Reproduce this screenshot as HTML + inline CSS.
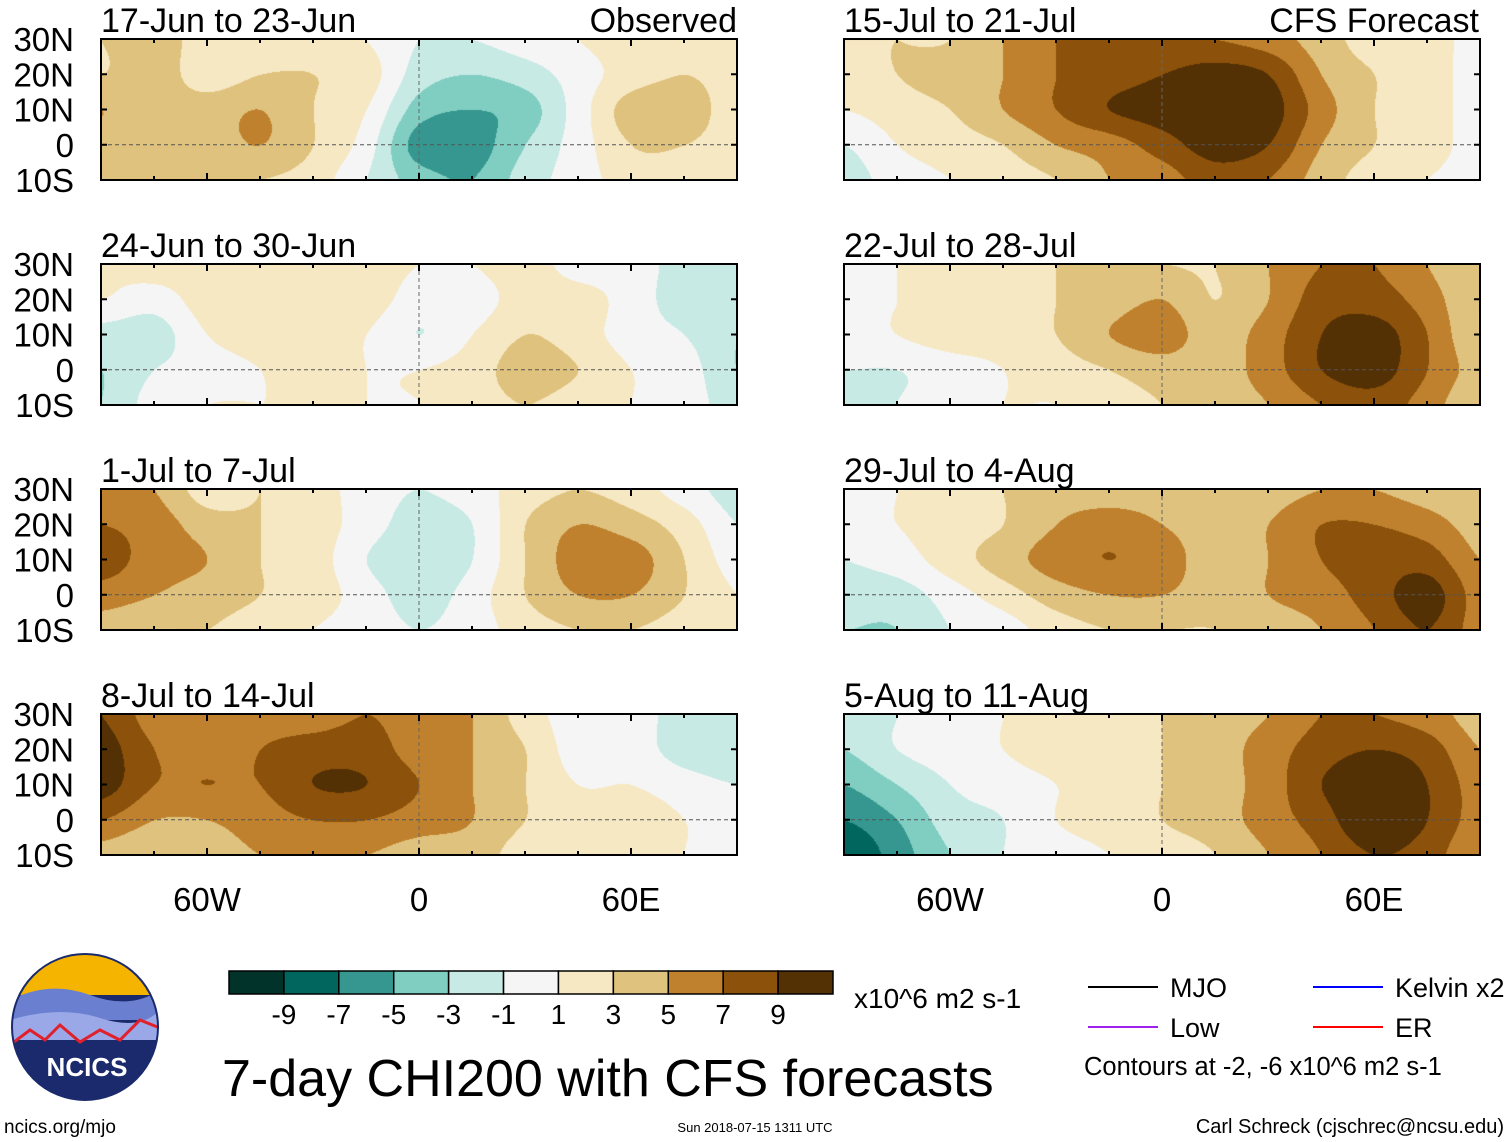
<!DOCTYPE html>
<html><head><meta charset="utf-8"><style>
body{margin:0;background:#fff;width:1510px;height:1142px;overflow:hidden;font-family:"Liberation Sans",sans-serif}
#root{position:relative;width:1510px;height:1142px}
canvas{position:absolute}
svg{position:absolute;left:0;top:0}
</style></head><body><div id="root">
<svg id="ov" width="1510" height="1142"></svg>
</div>
<script>
const lons=[-90,-75,-60,-45,-30,-15,0,15,30,45,60,75,90];
const lats=[30,20,10,0,-10];
const levels=[-9,-7,-5,-3,-1,1,3,5,7,9];
const levelColors=["#01332b","#01665e","#35978f","#80cdc1","#c7eae5","#f5f5f5","#f6e8c3","#dfc27d","#bf812d","#8c510a","#543005"];
const cbLabels=["-9","-7","-5","-3","-1","1","3","5","7","9"];
const titles=["17-Jun to 23-Jun","24-Jun to 30-Jun","1-Jul to 7-Jul","8-Jul to 14-Jul","15-Jul to 21-Jul","22-Jul to 28-Jul","29-Jul to 4-Aug","5-Aug to 11-Aug"];
const latLabels=["30N","20N","10N","0","10S"];
const lonLabels=["60W","0","60E"];
const lonLabelVals=[-60,0,60];
const f1=[[3,4,2,2,2,1,-1,-1,0,1,2,2,1],[3,4,2,3,3,2,-2,-3,-2,0,2,3,2],[5,4,4,5,3,1,-4,-5,-4,0,4,4,2],[4,4,4,5,3,0,-6,-6,-3,0,3,3,2],[3,3,3,3,2,-1,-4,-5,-2,0,2,2,1]];
const f2=[[1,2,2,2,2,2,1,1,2,0,0,-2,-3],[1,0,2,2,2,2,0,0,2,2,0,-2,-3],[-2,-2,1,2,2,1,-1,1,3,2,0,-1,-3],[-3,-1,0,1,2,1,1,2,4,3,1,0,-3],[-3,0,1,1,1,1,1,2,3,2,1,0,-2]];
const f3=[[5,5,2,3,2,0,-1,0,2,3,2,0,-2],[7,6,4,3,2,0,-2,-1,3,5,4,2,-1],[8,6,5,3,2,-1,-3,-1,3,6,6,3,0],[6,5,4,3,2,0,-2,0,3,5,5,3,1],[4,3,3,2,1,0,-1,0,2,3,3,2,1]];
const f4=[[9,6,6,6,6,7,6,5,2,0,0,-2,-2],[10,7,6,7,8,8,6,5,3,0,0,-2,-3],[10,7,7,7,9,9,7,5,3,1,1,0,-1],[7,5,5,6,7,7,6,5,3,2,2,1,0],[4,3,4,5,5,5,4,4,2,2,2,1,0]];
const f5=[[3,3,3,5,7,7,7,7,6,4,2,2,0],[2,3,4,5,7,8,9,10,9,5,3,2,0],[1,2,3,5,7,9,10,11,10,6,3,2,0],[-1,1,2,3,5,6,8,10,9,5,3,2,0],[-2,0,1,2,3,5,6,8,7,4,2,1,0]];
const f6=[[0,1,2,2,3,3,3,3,5,7,7,5,3],[0,1,2,2,3,4,5,3,5,8,8,6,3],[0,1,2,2,3,5,6,4,6,9,10,7,3],[-1,-1,0,1,2,3,4,4,6,9,10,7,4],[-2,-1,0,1,1,2,3,4,5,7,8,6,3]];
const f7=[[0,1,2,3,4,4,4,3,4,5,5,4,3],[0,1,2,3,5,6,5,4,5,7,7,6,4],[-1,0,2,4,6,7,6,4,5,7,8,8,5],[-2,-2,0,2,4,5,5,4,5,6,8,10,6],[-3,-3,-1,0,2,3,3,3,4,5,7,9,6]];
const f8=[[-2,-1,0,1,2,2,3,4,5,7,7,6,4],[-3,-1,0,1,2,2,3,4,6,8,9,8,5],[-5,-3,-1,0,1,2,3,4,6,9,11,9,6],[-7,-5,-2,-1,1,2,3,4,6,8,11,9,6],[-9,-6,-3,-1,0,1,2,3,5,7,9,8,5]];
const fields=[f1,f2,f3,f4,f5,f6,f7,f8];

const NS="http://www.w3.org/2000/svg";
const ov=document.getElementById('ov');
const root=document.getElementById('root');
const PW=636,PH=141;
const colX=[101,844],rowY=[39,264,489,714];
function xOf(lon,x0){return x0+(lon+90)/180*PW;}
function yOf(lat,y0){return y0+(30-lat)/40*PH;}
function el(tag,attrs,parent){const e=document.createElementNS(NS,tag);for(const k in attrs)e.setAttribute(k,attrs[k]);(parent||ov).appendChild(e);return e;}
function txt(x,y,s,size,anchor,parent){const t=el('text',{x:x,y:y,'font-size':size,'text-anchor':anchor||'start','font-family':'Liberation Sans, sans-serif',fill:'#000'},parent);t.textContent=s;return t;}
function colorFor(v){let i=0;while(i<levels.length&&v>=levels[i])i++;return levelColors[i];}
function cr(p0,p1,p2,p3,t){return 0.5*((2*p1)+(-p0+p2)*t+(2*p0-5*p1+4*p2-p3)*t*t+(-p0+3*p1-3*p2+p3)*t*t*t);}
function g2(f,j,i){j=Math.max(0,Math.min(lats.length-1,j));i=Math.max(0,Math.min(lons.length-1,i));return f[j][i];}
function val(f,lon,lat){
  let fi=(lon-lons[0])/15, fj=(lats[0]-lat)/10;
  fi=Math.max(0,Math.min(lons.length-1.0001,fi));fj=Math.max(0,Math.min(lats.length-1.0001,fj));
  const i=Math.floor(fi),j=Math.floor(fj),a=fi-i,b=fj-j;
  const rows=[];
  for(let jj=j-1;jj<=j+2;jj++){rows.push(cr(g2(f,jj,i-1),g2(f,jj,i),g2(f,jj,i+1),g2(f,jj,i+2),a));}
  return cr(rows[0],rows[1],rows[2],rows[3],b);
}
for(let p=0;p<8;p++){
  const x0=colX[p<4?0:1],y0=rowY[p%4];
  const cv=document.createElement('canvas');cv.width=PW;cv.height=PH;
  cv.style.left=x0+'px';cv.style.top=y0+'px';
  
  
  root.insertBefore(cv,ov);
  const ctx=cv.getContext('2d');
  for(let y=0;y<PH;y+=1){for(let x=0;x<PW;x+=1){
    const lon=-90+x/PW*180,lat=30-y/PH*40;
    ctx.fillStyle=colorFor(val(fields[p],lon,lat));ctx.fillRect(x,y,1,1);
  }}
  const g=el('g',{});
  
  
  el('line',{x1:x0,x2:x0+PW,y1:yOf(0,y0),y2:yOf(0,y0),stroke:'#555','stroke-width':1,'stroke-dasharray':'4,3'},g);
  el('line',{x1:xOf(0,x0),x2:xOf(0,x0),y1:y0,y2:y0+PH,stroke:'#666','stroke-width':1,'stroke-dasharray':'4,3'},g);
  el('rect',{x:x0,y:y0,width:PW,height:PH,fill:'none',stroke:'#000','stroke-width':2},g);
  for(const lat of [20,10,0]){const yy=yOf(lat,y0);
    el('line',{x1:x0,x2:x0+6,y1:yy,y2:yy,stroke:'#000','stroke-width':2},g);
    el('line',{x1:x0+PW-6,x2:x0+PW,y1:yy,y2:yy,stroke:'#000','stroke-width':2},g);}
  for(let lon=-75;lon<90;lon+=15){const xx=xOf(lon,x0),L=(lon%60===0)?7:4;
    el('line',{x1:xx,x2:xx,y1:y0,y2:y0+L,stroke:'#000','stroke-width':2},g);
    el('line',{x1:xx,x2:xx,y1:y0+PH-L,y2:y0+PH,stroke:'#000','stroke-width':2},g);}
  const t=txt(x0,y0-7,titles[p],34,'start',g);
  
  if(p===0){const o=txt(737,y0-7,'Observed',34,'end',g);}
  if(p===4){const o=txt(1479,y0-7,'CFS Forecast',34,'end',g);}
  if(p<4){for(let k=0;k<5;k++){const lt=txt(74,yOf(lats[k],y0)+12,latLabels[k],33,'end',g);}}
}
for(const x0 of colX){for(let k=0;k<3;k++){const t=txt(xOf(lonLabelVals[k],x0),911,lonLabels[k],33,'middle');
  }}
const cb=el('g',{});


const cbx=229,cbw=604/levelColors.length;
for(let i=0;i<levelColors.length;i++){
  const r=el('rect',{x:cbx+i*cbw,y:971,width:cbw,height:23,fill:levelColors[i],stroke:'#000','stroke-width':1.5},cb);
  
}
for(let i=0;i<cbLabels.length;i++){const t=txt(cbx+(i+1)*cbw,1024,cbLabels[i],28,'middle',cb);}
txt(854,1008,'x10^6 m2 s-1',28,'start');
txt(222,1096,'7-day CHI200 with CFS forecasts',52,'start');
const lg=el('g',{});


const items=[[1088,987,'#000','MJO'],[1313,987,'#0000ff','Kelvin x2'],[1088,1027,'#a020f0','Low'],[1313,1027,'#ff0000','ER']];
for(const it of items){el('line',{x1:it[0],x2:it[0]+70,y1:it[1],y2:it[1],stroke:it[2],'stroke-width':2},lg);
  const t=txt(it[0]+82,it[1]+10,it[3],27,'start',lg);}
txt(1084,1075,'Contours at -2, -6 x10^6 m2 s-1',25.5,'start',lg);
txt(4,1133,'ncics.org/mjo',19,'start');
txt(755,1132,'Sun 2018-07-15 1311 UTC',13,'middle');
txt(1504,1133,'Carl Schreck (cjschrec@ncsu.edu)',20,'end');
const lgo=el('g',{});


el('defs',{},lgo).innerHTML='<clipPath id="lc"><circle cx="85" cy="1027" r="73"/></clipPath>';
const lc=el('g',{'clip-path':'url(#lc)'},lgo);
el('rect',{x:10,y:950,width:150,height:160,fill:'#1a2a6c'},lc);
el('rect',{x:10,y:950,width:150,height:45,fill:'#f5b400'},lc);
el('path',{d:'M10 1000 Q50 980 90 995 T160 990 L160 1020 L10 1020 Z',fill:'#6a7fd0'},lc);
el('path',{d:'M10 1020 Q60 1005 100 1018 T160 1010 L160 1040 L10 1040 Z',fill:'#9aa8e8'},lc);
el('path',{d:'M10 1045 L30 1030 L45 1040 L60 1025 L80 1042 L100 1030 L120 1040 L140 1020 L160 1028',fill:'none',stroke:'#e0202a','stroke-width':3},lc);
el('circle',{cx:85,cy:1027,r:73,fill:'none',stroke:'#1a2a6c','stroke-width':2},lgo);
const lt=el('text',{x:87,y:1076,'font-size':26,'font-weight':'bold','text-anchor':'middle',fill:'#fff','font-family':'Liberation Sans, sans-serif'},lgo);lt.textContent='NCICS';
</script></body></html>
